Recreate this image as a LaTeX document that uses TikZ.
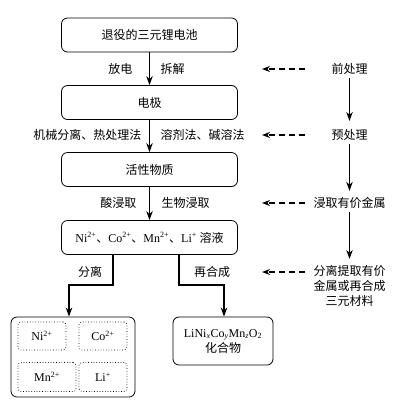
\documentclass[tikz,border=0pt]{standalone}
\usepackage{fontspec}
\setmainfont{Noto Sans CJK SC}
\newfontfamily\tnr{Liberation Serif}
\usepackage{tikz}
\usetikzlibrary{arrows.meta,positioning,calc}

\begin{document}
\begin{tikzpicture}[
        x=1pt, y=-1pt,
        every node/.style={font=\fontsize{12}{15}\selectfont},
        block/.style={draw, rounded corners=6pt, align=center, minimum width=176pt, minimum height=34pt, line width=0.8pt},
        ionbox/.style={draw, dotted, rounded corners=3pt, minimum height=28pt, inner sep=0pt, line width=0.7pt},
        line/.style={-{Stealth[length=9pt,width=6.5pt]}, line width=1.3pt},
        dline/.style={-{Stealth[length=8pt,width=6pt]}, dash pattern=on 6pt off 4pt, line width=1.3pt}
    ]
        \useasboundingbox (0,0) rectangle (411,405);
        % main column
        \node[block] (bat) at (149.5,35) {退役的三元锂电池};
        \node[block] (elec) at (149.5,102.5) {电极};
        \node[block] (act) at (149.5,169.5) {活性物质};
        \node[block] (sol) at (149.5,237.5) {{\tnr Ni\textsuperscript{2+}}、{\tnr Co\textsuperscript{2+}}、{\tnr Mn\textsuperscript{2+}}、{\tnr Li\textsuperscript{+}} 溶液};
        \node[block, minimum width=124pt, minimum height=80pt] (sep) at (73,357) {};
        \node[ionbox, minimum width=48pt] (ni) at (42,336) {\tnr Ni\textsuperscript{2+}};
        \node[ionbox, minimum width=48pt] (co) at (103,336) {\tnr Co\textsuperscript{2+}};
        \node[ionbox, minimum width=58pt, minimum height=29pt] (mn) at (47,377) {\tnr Mn\textsuperscript{2+}};
        \node[ionbox, minimum width=48pt, minimum height=29pt] (li) at (103,377) {\tnr Li\textsuperscript{+}};
        \node[block, minimum width=100pt, minimum height=48pt] (comp) at (223,341) {{\tnr LiNi\textsubscript{\itshape x}Co\textsubscript{\itshape y}Mn\textsubscript{\itshape z}O\textsubscript{2}}\\化合物};
        % step labels
        \node[anchor=east] (dis) at (136,69) {放电};
        \node[anchor=west] (dism) at (157,69) {拆解};
        \node[anchor=east] (mech) at (145,135) {机械分离、热处理法};
        \node[anchor=west] (solv) at (157,135) {溶剂法、碱溶法};
        \node[anchor=east] (acid) at (140,203) {酸浸取};
        \node[anchor=west] (bio) at (158,203) {生物浸取};
        \node (split) at (90,272) {分离};
        \node (resyn) at (212,272) {再合成};
        % right column
        \node (pre) at (349.5,69) {前处理};
        \node (pp) at (349.5,135) {预处理};
        \node (leach) at (349.5,203) {浸取有价金属};
        \node[align=center] (ext) at (349.5,286) {分离提取有价\\金属或再合成\\三元材料};
        \coordinate (jl) at (69,285);
        \coordinate (jr) at (224,285);
        \draw[line] (bat) -- (elec);
        \draw[line] (elec) -- (act);
        \draw[line] (act) -- (sol);
        \draw[line] ([xshift=-36.5pt]sol.south) |- (jl) -- (jl |- sep.north);
        \draw[line] ([xshift=29.5pt]sol.south) |- (jr) -- (jr |- comp.north);
        \draw[line, shorten >=5pt] (pre) -- (pp);
        \draw[line, shorten >=3pt] (pp) -- (leach);
        \draw[line, shorten >=3pt] (leach) -- (ext);
        \foreach \y [count=\i] in {69,135,203,272} {
            \coordinate (ds\i) at (305,\y);
            \coordinate (de\i) at (262,\y);
            \draw[dline] (ds\i) -- (de\i);
        }
    \end{tikzpicture}
\end{document}
